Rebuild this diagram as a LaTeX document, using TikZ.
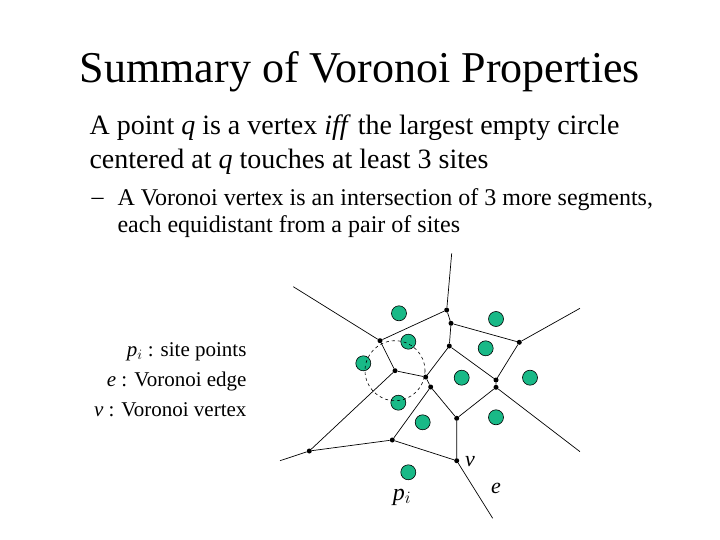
\documentclass[tikz,border=0pt]{standalone}
\usepackage{fontspec}
\setmainfont{Liberation Serif}
\definecolor{sitecol}{RGB}{25,185,135}
\begin{document}
\begin{tikzpicture}[x=1pt,y=-1pt,
  vx/.style={circle,fill=black,inner sep=0pt,minimum size=5pt},
  site/.style={circle,draw=black,fill=sitecol,inner sep=0pt,minimum size=15pt,line width=0.6pt},
  edge/.style={line width=0.7pt}]
\useasboundingbox (0,0) rectangle (720,540);
\node[font=\fontsize{44}{48}\selectfont] (title) at (360,72) {Summary of Voronoi Properties};
\node[anchor=west,align=left,font=\fontsize{28}{34}\selectfont] (t1) at (86,145) {A point \textit{q} is a vertex \textit{iff} the largest empty circle\\ centered at \textit{q} touches at least 3 sites};
\node[anchor=west,font=\fontsize{24}{26}\selectfont] (dash) at (88,201) {--};
\node[anchor=west,align=left,font=\fontsize{24}{27}\selectfont] (t2) at (114,213) {A Voronoi vertex is an intersection of 3 more segments,\\ each equidistant from a pair of sites};
\node[anchor=east,align=right,font=\fontsize{21}{30}\selectfont] (leg) at (250,380) {\textit{p$_i$} : site points\\ \textit{e} : Voronoi edge\\ \textit{v} : Voronoi vertex};
% sites
\foreach \n/\x/\y in {s1/399/313.3,s2/496/319,s3/408.3/341.7,s4/485.7/348.3,s5/363.3/363.3,s6/461.7/377.7,s7/530/377.7,s8/398.3/402.7,s9/422.7/422.3,s10/496/417.3,s11/408.3/472.3}
  \node[site] (\n) at (\x,\y) {};
\draw[dashed,line width=0.6pt] (395,370.7) circle (30);
% vertices
\foreach \n/\x/\y in {A/446.7/310,B/451/323.3,C/449.3/346,D/380/340.7,E/395/370.7,F/425.7/377,G/430.7/387,H/456.7/418.3,I/496/380,J/496/387.3,K/519.3/342.3,L/392.3/440,M/309.3/451,N/456.7/460.7}
  \node[vx] (\n) at (\x,\y) {};
\coordinate (fA) at (451.7,253.3);
\coordinate (fD) at (293.3,286.7);
\coordinate (fK) at (580,308.3);
\coordinate (fJ) at (580,451.7);
\coordinate (fM) at (280,460.7);
\coordinate (fN) at (492.7,518.3);
\draw[edge] (fA)--(A) (A)--(B) (A)--(D) (B)--(C) (B)--(K) (C)--(F) (C)--(I)
  (D)--(E) (E)--(F) (F)--(G) (G)--(L) (G)--(H) (E)--(M) (M)--(L) (L)--(N)
  (N)--(H) (H)--(J) (I)--(J) (I)--(K) (fD)--(D) (fK)--(K) (fJ)--(J) (fM)--(M) (N)--(fN);
\node[font=\fontsize{22}{24}\selectfont] (v) at (470,462) {\textit{v}};
\node[font=\fontsize{22}{24}\selectfont] (e) at (496,488) {\textit{e}};
\node[font=\fontsize{24}{26}\selectfont] (p) at (402,497) {\textit{p$_i$}};
\end{tikzpicture}
\end{document}
